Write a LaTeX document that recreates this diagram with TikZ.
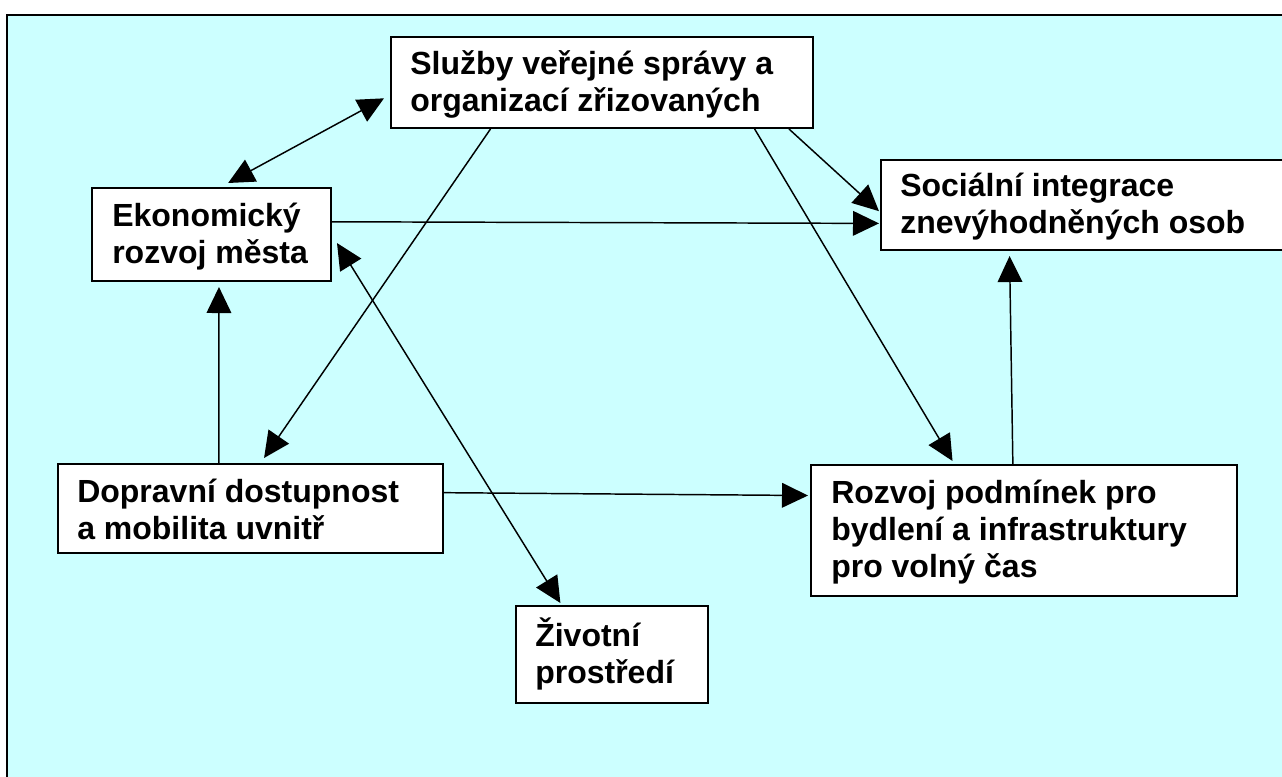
\documentclass[tikz,border=0pt]{standalone}
\usepackage{fontspec}
\setmainfont{Liberation Sans}
\usetikzlibrary{arrows.meta,calc}
\definecolor{bgcyan}{RGB}{204,255,255}
\begin{document}
\begin{tikzpicture}[x=0.75pt,y=-0.75pt,
  box/.style={draw=black, fill=white, line width=1.5pt, inner sep=0pt, anchor=north west, rectangle},
  txt/.style={font=\bfseries\fontsize{24}{27.5}\selectfont, align=left, anchor=base west, inner sep=0pt},
  conn/.style={line width=1.1pt},
  >={Triangle[length=19.5pt,width=18.5pt]}]
\useasboundingbox (0,0) rectangle (1282,776);
\clip (0,0) rectangle (1282,776);
\fill[white] (0,0) rectangle (1282,776);
\filldraw[fill=bgcyan, draw=black, line width=1.5pt] (7,15) rectangle (1300,800);

% boxes
\node[box, minimum width=316.5pt, minimum height=68.25pt] (sl) at (390,36) {};
\node[box, minimum width=179.25pt, minimum height=69.75pt] (ek) at (91,187) {};
\node[box, minimum width=315pt, minimum height=67.5pt] (soc) at (880,159) {};
\node[box, minimum width=288.75pt, minimum height=66.75pt] (dop) at (57,463) {};
\node[box, minimum width=319.5pt, minimum height=98.25pt] (roz) at (810,464) {};
\node[box, minimum width=144pt, minimum height=72.75pt] (ziv) at (515,605) {};

% texts (anchored at the baseline of the last line)
\node[txt] (slt) at (410,111) {Služby veřejné správy a\\organizací zřizovaných};
\node[txt] (ekt) at (112,263) {Ekonomický\\rozvoj města};
\node[txt] (soct) at (900,233) {Sociální integrace\\znevýhodněných osob};
\node[txt] (dopt) at (77,539) {Dopravní dostupnost\\a mobilita uvnitř};
\node[txt] (rozt) at (831,577) {Rozvoj podmínek pro\\bydlení a infrastruktury\\pro volný čas};
\node[txt] (zivt) at (535,683) {Životní\\prostředí};

% connectors
\draw[conn,<->] ($(ek.north west)!0.569!(ek.north east)+(0,-4)$) -- ($(sl.north west)!0.67!(sl.south west)+(-6,0)$);
\draw[conn,->] ($(sl.south west)!0.237!(sl.south east)$) -- ($(dop.north west)!0.535!(dop.north east)+(0,-5)$);
\draw[conn,->] ($(sl.south west)!0.86!(sl.south east)$) -- ($(roz.north west)!0.333!(roz.north east)+(0,-3)$);
\draw[conn,->] ($(sl.south west)!0.941!(sl.south east)$) -- ($(soc.north west)!0.567!(soc.south west)+(-1,0)$);
\draw[conn,->] ($(ek.north east)!0.366!(ek.south east)$) -- ($(soc.north west)!0.7!(soc.south west)+(-1,0)$);
\draw[conn,<->] ($(ek.north east)!0.59!(ek.south east)+(5,0)$) -- ($(ziv.north west)!0.234!(ziv.north east)+(0,-2)$);
\draw[conn,->] ($(dop.north west)!0.418!(dop.north east)$) -- ($(ek.south west)!0.531!(ek.south east)+(0,5)$);
\draw[conn,->] ($(dop.north east)!0.326!(dop.south east)$) -- ($(roz.north west)!0.237!(roz.south west)+(-2,0)$);
\draw[conn,->] ($(roz.north west)!0.474!(roz.north east)$) -- ($(soc.south west)!0.307!(soc.south east)+(0,5)$);
\end{tikzpicture}
\end{document}
